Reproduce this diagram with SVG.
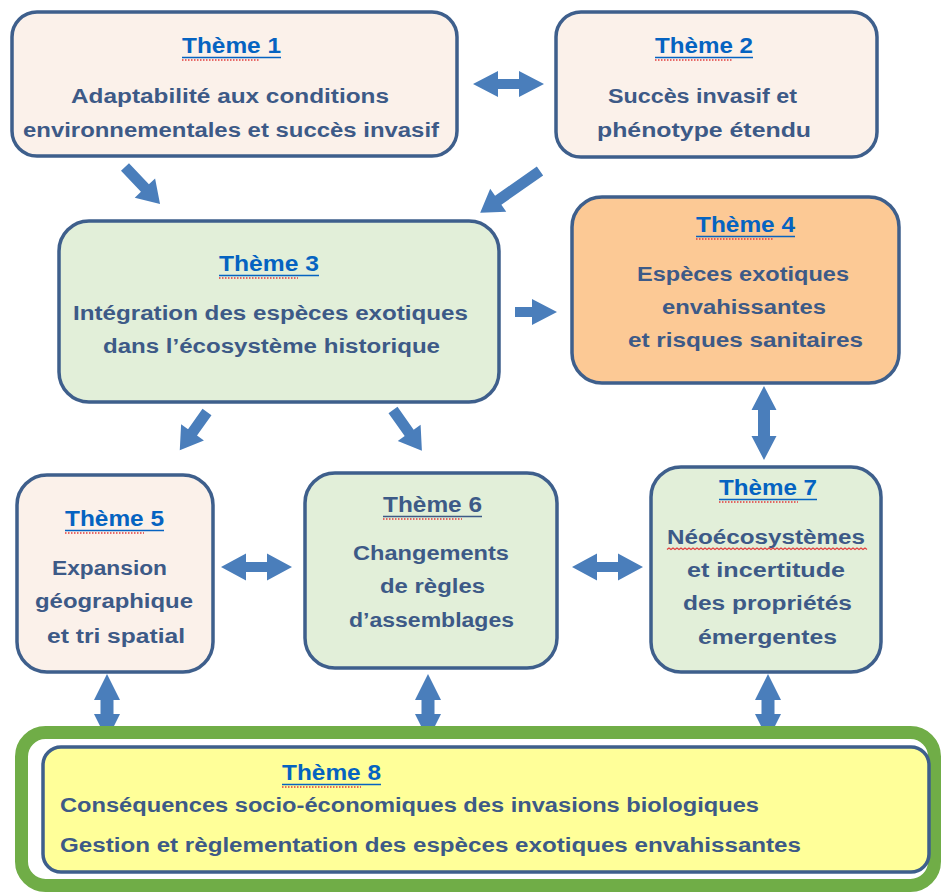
<svg xmlns="http://www.w3.org/2000/svg" width="941" height="893" viewBox="0 0 941 893">
<style>
  .box{stroke:#3e5f8c;stroke-width:3.5}
  .peach{fill:#fbf1ea}
  .green{fill:#e2efd9}
  .orange{fill:#fcc995}
  text{font-family:"Liberation Sans",Arial,sans-serif;font-weight:bold}
  .t{fill:#0563c1;font-size:22px}
  .t6{fill:#3d5a87;font-size:22px}
  .b{fill:#3d5a87;font-size:20px}
  .ul{stroke:#0563c1;stroke-width:1.5}
  .ul6{stroke:#3d5a87;stroke-width:1.5}
  .sp{stroke:#e23b3b;stroke-width:1.3;stroke-dasharray:1.5 1.5;fill:none}
  .arr{fill:#4a7ebb}
</style>
<rect width="941" height="893" fill="#ffffff"/>

<g id="theme1">
  <rect class="box peach" x="12" y="12" width="445" height="144" rx="25"/>
  <text class="t" x="182" y="53" textLength="99" lengthAdjust="spacingAndGlyphs">Thème 1</text>
  <line class="ul" x1="182" y1="57.5" x2="281" y2="57.5"/>
  <line class="sp" x1="182" y1="60" x2="260" y2="60"/>
  <text class="b" x="71" y="103" textLength="318" lengthAdjust="spacingAndGlyphs">Adaptabilité aux conditions</text>
  <text class="b" x="23" y="137" textLength="416" lengthAdjust="spacingAndGlyphs">environnementales et succès invasif</text>
</g>

<g id="theme2">
  <rect class="box peach" x="556" y="12" width="321" height="145" rx="25"/>
  <text class="t" x="655" y="53" textLength="98" lengthAdjust="spacingAndGlyphs">Thème 2</text>
  <line class="ul" x1="655" y1="57.5" x2="753" y2="57.5"/>
  <line class="sp" x1="655" y1="60" x2="733" y2="60"/>
  <text class="b" x="608" y="103" textLength="189" lengthAdjust="spacingAndGlyphs">Succès invasif et</text>
  <text class="b" x="597" y="137" textLength="214" lengthAdjust="spacingAndGlyphs">phénotype étendu</text>
</g>

<g id="theme3">
  <rect class="box green" x="59" y="221" width="440" height="181" rx="30"/>
  <text class="t" x="219" y="271" textLength="100" lengthAdjust="spacingAndGlyphs">Thème 3</text>
  <line class="ul" x1="219" y1="275.5" x2="319" y2="275.5"/>
  <line class="sp" x1="219" y1="278" x2="298" y2="278"/>
  <text class="b" x="73" y="320" textLength="395" lengthAdjust="spacingAndGlyphs">Intégration des espèces exotiques</text>
  <text class="b" x="103" y="353" textLength="337" lengthAdjust="spacingAndGlyphs">dans l’écosystème historique</text>
</g>

<g id="theme4">
  <rect class="box orange" x="572" y="197" width="327" height="186" rx="30"/>
  <text class="t" x="696" y="232" textLength="99" lengthAdjust="spacingAndGlyphs">Thème 4</text>
  <line class="ul" x1="696" y1="236.5" x2="795" y2="236.5"/>
  <line class="sp" x1="696" y1="239" x2="774" y2="239"/>
  <text class="b" x="637" y="281" textLength="212" lengthAdjust="spacingAndGlyphs">Espèces exotiques</text>
  <text class="b" x="662" y="314" textLength="164" lengthAdjust="spacingAndGlyphs">envahissantes</text>
  <text class="b" x="628" y="347" textLength="235" lengthAdjust="spacingAndGlyphs">et risques sanitaires</text>
</g>

<g id="theme5">
  <rect class="box peach" x="17" y="475" width="196" height="197" rx="30"/>
  <text class="t" x="65" y="526" textLength="99" lengthAdjust="spacingAndGlyphs">Thème 5</text>
  <line class="ul" x1="65" y1="530.5" x2="164" y2="530.5"/>
  <line class="sp" x1="65" y1="533" x2="144" y2="533"/>
  <text class="b" x="52" y="575" textLength="115" lengthAdjust="spacingAndGlyphs">Expansion</text>
  <text class="b" x="35" y="608" textLength="158" lengthAdjust="spacingAndGlyphs">géographique</text>
  <text class="b" x="47" y="643" textLength="138" lengthAdjust="spacingAndGlyphs">et tri spatial</text>
</g>

<g id="theme6">
  <rect class="box green" x="305" y="473" width="252" height="195" rx="30"/>
  <text class="t6" x="383" y="512" textLength="99" lengthAdjust="spacingAndGlyphs">Thème 6</text>
  <line class="ul6" x1="383" y1="516.5" x2="482" y2="516.5"/>
  <line class="sp" x1="383" y1="519" x2="462" y2="519"/>
  <text class="b" x="353" y="560" textLength="156" lengthAdjust="spacingAndGlyphs">Changements</text>
  <text class="b" x="380" y="593" textLength="105" lengthAdjust="spacingAndGlyphs">de règles</text>
  <text class="b" x="349" y="627" textLength="165" lengthAdjust="spacingAndGlyphs">d’assemblages</text>
</g>

<g id="theme7">
  <rect class="box green" x="651" y="467" width="230" height="205" rx="30"/>
  <text class="t" x="719" y="495" textLength="98" lengthAdjust="spacingAndGlyphs">Thème 7</text>
  <line class="ul" x1="719" y1="499.5" x2="817" y2="499.5"/>
  <line class="sp" x1="719" y1="502" x2="798" y2="502"/>
  <text class="b" x="667" y="544" textLength="198" lengthAdjust="spacingAndGlyphs">Néoécosystèmes</text>
  <path d="M667,549.5 l2,-1.5 l2,1.5 l2,-1.5 l2,1.5 l2,-1.5 l2,1.5 l2,-1.5 l2,1.5 l2,-1.5 l2,1.5 l2,-1.5 l2,1.5 l2,-1.5 l2,1.5 l2,-1.5 l2,1.5 l2,-1.5 l2,1.5 l2,-1.5 l2,1.5 l2,-1.5 l2,1.5 l2,-1.5 l2,1.5 l2,-1.5 l2,1.5 l2,-1.5 l2,1.5 l2,-1.5 l2,1.5 l2,-1.5 l2,1.5 l2,-1.5 l2,1.5 l2,-1.5 l2,1.5 l2,-1.5 l2,1.5 l2,-1.5 l2,1.5 l2,-1.5 l2,1.5 l2,-1.5 l2,1.5 l2,-1.5 l2,1.5 l2,-1.5 l2,1.5 l2,-1.5 l2,1.5 l2,-1.5 l2,1.5 l2,-1.5 l2,1.5 l2,-1.5 l2,1.5 l2,-1.5 l2,1.5 l2,-1.5 l2,1.5 l2,-1.5 l2,1.5 l2,-1.5 l2,1.5 l2,-1.5 l2,1.5 l2,-1.5 l2,1.5 l2,-1.5 l2,1.5 l2,-1.5 l2,1.5 l2,-1.5 l2,1.5 l2,-1.5 l2,1.5 l2,-1.5 l2,1.5 l2,-1.5 l2,1.5 l2,-1.5 l2,1.5 l2,-1.5 l2,1.5 l2,-1.5 l2,1.5 l2,-1.5 l2,1.5 l2,-1.5 l2,1.5 l2,-1.5 l2,1.5 l2,-1.5 l2,1.5 l2,-1.5 l2,1.5 l2,-1.5 l2,1.5 l2,-1.5 l2,1.5" fill="none" stroke="#e23b3b" stroke-width="1.1"/>
  <text class="b" x="687" y="577" textLength="158" lengthAdjust="spacingAndGlyphs">et incertitude</text>
  <text class="b" x="683" y="610" textLength="169" lengthAdjust="spacingAndGlyphs">des propriétés</text>
  <text class="b" x="698" y="644" textLength="139" lengthAdjust="spacingAndGlyphs">émergentes</text>
</g>

<g id="connectors" class="arr">
  <!-- 1 <-> 2 -->
  <path d="M473,84 L498,71 L498,79 L519,79 L519,71 L544,84 L519,97 L519,89 L498,89 L498,97 Z"/>
  <!-- 1 -> 3 -->
  <path d="M0,-5.5 L29,-5.5 L29,-14 L51,0 L29,14 L29,5.5 L0,5.5 Z" transform="translate(125,167) rotate(46.6)"/>
  <!-- 2 -> 3 -->
  <path d="M0,-5.5 L51,-5.5 L51,-14 L73,0 L51,14 L51,5.5 L0,5.5 Z" transform="translate(540,171) rotate(145)"/>
  <!-- 3 -> 4 -->
  <path d="M0,-5 L17,-5 L17,-13 L42,0 L17,13 L17,5 L0,5 Z" transform="translate(515,312)"/>
  <!-- 3 -> 5 -->
  <path d="M0,-5.5 L25,-5.5 L25,-14 L47,0 L25,14 L25,5.5 L0,5.5 Z" transform="translate(207,412) rotate(125.4)"/>
  <!-- 3 -> 6 -->
  <path d="M0,-5.5 L28,-5.5 L28,-14 L50,0 L28,14 L28,5.5 L0,5.5 Z" transform="translate(393,410) rotate(54.7)"/>
  <!-- 4 <-> 7 -->
  <path d="M764,386 L776.5,410 L770,410 L770,436 L776.5,436 L764,460 L751.5,436 L758,436 L758,410 L751.5,410 Z"/>
  <!-- 5 <-> 6 -->
  <path d="M221,567 L246,553.5 L246,562 L267,562 L267,553.5 L292,567 L267,580.5 L267,572 L246,572 L246,580.5 Z"/>
  <!-- 6 <-> 7 -->
  <path d="M572,567 L597,553.5 L597,562 L618,562 L618,553.5 L643,567 L618,580.5 L618,572 L597,572 L597,580.5 Z"/>
  <!-- 5 <-> 8 -->
  <path d="M107,674 L120,700 L113.5,700 L113.5,714 L120,714 L107,740 L94,714 L100.5,714 L100.5,700 L94,700 Z"/>
  <!-- 6 <-> 8 -->
  <path d="M428,674 L441,700 L434.5,700 L434.5,714 L441,714 L428,740 L415,714 L421.5,714 L421.5,700 L415,700 Z"/>
  <!-- 7 <-> 8 -->
  <path d="M768,674 L781,700 L774.5,700 L774.5,714 L781,714 L768,740 L755,714 L761.5,714 L761.5,700 L755,700 Z"/>
</g>

<g id="theme8">
  <rect x="21.5" y="732.5" width="913" height="153" rx="24" fill="#ffffff" stroke="#70ad47" stroke-width="13"/>
  <rect class="box" x="43" y="747" width="886" height="125" rx="18" fill="#ffff99"/>
  <text class="t" x="282" y="780" textLength="99" lengthAdjust="spacingAndGlyphs">Thème 8</text>
  <line class="ul" x1="282" y1="784.5" x2="381" y2="784.5"/>
  <line class="sp" x1="282" y1="787" x2="361" y2="787"/>
  <text class="b" x="60" y="812" textLength="699" lengthAdjust="spacingAndGlyphs">Conséquences socio-économiques  des invasions biologiques</text>
  <text class="b" x="60" y="852" textLength="741" lengthAdjust="spacingAndGlyphs">Gestion et règlementation des espèces exotiques envahissantes</text>
</g>
</svg>
